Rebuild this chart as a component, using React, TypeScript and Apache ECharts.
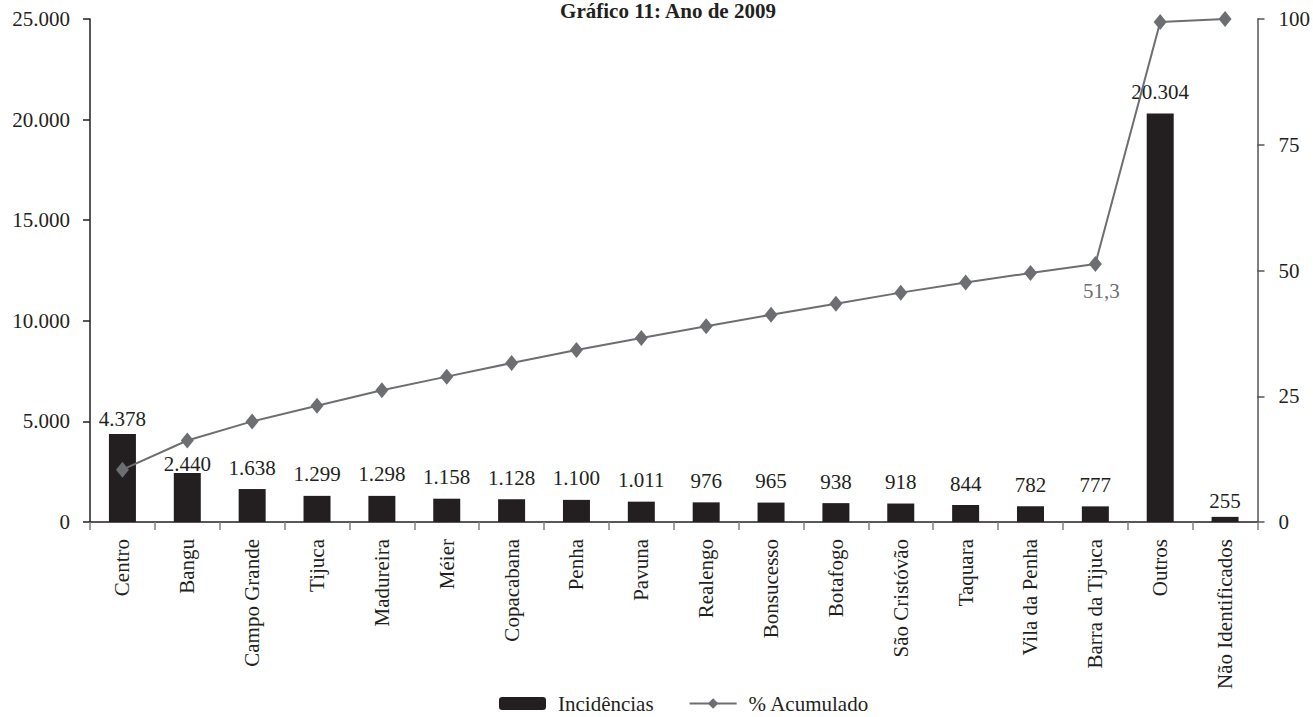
import React, { useEffect, useRef } from "react";
import * as echarts from "echarts";

// Bairros ordered by number of incidences (2009)
const bairros = [
  "Centro",
  "Bangu",
  "Campo Grande",
  "Tijuca",
  "Madureira",
  "Méier",
  "Copacabana",
  "Penha",
  "Pavuna",
  "Realengo",
  "Bonsucesso",
  "Botafogo",
  "São Cristóvão",
  "Taquara",
  "Vila da Penha",
  "Barra da Tijuca",
  "Outros",
  "Não Identificados",
];

const incidencias = [
  4378, 2440, 1638, 1299, 1298, 1158, 1128, 1100, 1011, 976, 965, 938, 918, 844, 782, 777, 20304, 255,
];

const acumulado = [
  10.4, 16.2, 20.0, 23.1, 26.2, 28.9, 31.6, 34.2, 36.6, 38.9, 41.2, 43.4, 45.6, 47.6, 49.5, 51.3, 99.4, 100,
];

// Only this point of the cumulative line carries a value label
const labeledPoint = "Barra da Tijuca";

const leftTicks = { min: 0, max: 25000, interval: 5000 };
const rightTicks = { min: 0, max: 100, interval: 25 };

const FONT = "Liberation Serif";
const INK = "#231f20";
const GREY = "#6d6e71";

// Labels that sit closer to their bar than the default gap
const labelGapOverrides: Record<string, number> = {
  Centro: 4,
  Bangu: -2,
  "Não Identificados": 5,
};
const defaultLabelGap = 11;

function formatThousands(v: number): string {
  const s = Math.round(v).toString();
  return s.replace(/\B(?=(\d{3})+(?!\d))/g, ".");
}

export default function App() {
  const ref = useRef<HTMLDivElement>(null);

  useEffect(() => {
    if (!ref.current) return;
    const chart = echarts.init(ref.current, null, { renderer: "svg" });

    const barData = incidencias.map((v, i) => ({
      value: v,
      label: {
        distance: labelGapOverrides[bairros[i]] ?? defaultLabelGap,
      },
    }));

    const lineData = acumulado.map((v, i) =>
      bairros[i] === labeledPoint
        ? {
            value: v,
            label: {
              show: true,
              position: "bottom",
              distance: 9,
              offset: [6, 0],
              color: GREY,
              fontFamily: FONT,
              fontSize: 21,
              formatter: (p: any) => String(p.value).replace(".", ","),
            },
          }
        : v
    );

    chart.setOption({
      animation: false,
      backgroundColor: "#ffffff",
      textStyle: { fontFamily: FONT },
      title: {
        text: "Gráfico 11: Ano de 2009",
        left: 668,
        top: 0,
        padding: 0,
        textAlign: "center",
        textStyle: {
          fontFamily: FONT,
          fontSize: 21,
          fontWeight: "bold",
          color: INK,
        },
      },
      legend: {
        left: 499,
        top: 693,
        padding: 0,
        itemWidth: 47,
        itemHeight: 13,
        itemGap: 35,
        data: ["Incidências", "% Acumulado"],
        textStyle: {
          fontFamily: FONT,
          fontSize: 21,
          color: INK,
          padding: [0, 0, 0, 7],
        },
      },
      grid: { left: 90, right: 55, top: 19, bottom: 195, containLabel: false },
      xAxis: {
        type: "category",
        data: bairros,
        boundaryGap: true,
        axisLine: { show: true, lineStyle: { color: INK, width: 1.5 } },
        axisTick: { show: true, length: 8, lineStyle: { color: "#808080", width: 1.5 } },
        axisLabel: {
          rotate: 90,
          margin: 17,
          interval: 0,
          fontFamily: FONT,
          fontSize: 21,
          color: INK,
        },
      },
      yAxis: [
        {
          type: "value",
          ...leftTicks,
          position: "left",
          axisLine: { show: true, lineStyle: { color: INK, width: 1.5 } },
          axisTick: { show: true, length: 7, lineStyle: { color: INK, width: 1.5 } },
          splitLine: { show: false },
          axisLabel: {
            margin: 20,
            fontFamily: FONT,
            fontSize: 21,
            color: INK,
            formatter: (v: number) => formatThousands(v),
          },
        },
        {
          type: "value",
          ...rightTicks,
          position: "right",
          axisLine: { show: true, lineStyle: { color: "#555555", width: 1.5 } },
          axisTick: { show: true, length: 7, lineStyle: { color: "#555555", width: 1.5 } },
          splitLine: { show: false },
          axisLabel: {
            margin: 21,
            fontFamily: FONT,
            fontSize: 21,
            color: INK,
          },
        },
      ],
      series: [
        {
          name: "Incidências",
          type: "bar",
          yAxisIndex: 0,
          barWidth: 27,
          data: barData,
          itemStyle: { color: INK },
          label: {
            show: true,
            position: "top",
            fontFamily: FONT,
            fontSize: 21,
            color: INK,
            formatter: (p: any) => formatThousands(p.value),
          },
        },
        {
          name: "% Acumulado",
          type: "line",
          yAxisIndex: 1,
          data: lineData,
          symbol: "diamond",
          symbolSize: [13, 16],
          lineStyle: { color: GREY, width: 2 },
          itemStyle: { color: GREY },
          z: 3,
        },
      ],
    });

    return () => {
      chart.dispose();
    };
  }, []);

  return (
    <div
      ref={ref}
      style={{ position: "fixed", left: 0, top: 0, width: 1313, height: 717 }}
    />
  );
}
